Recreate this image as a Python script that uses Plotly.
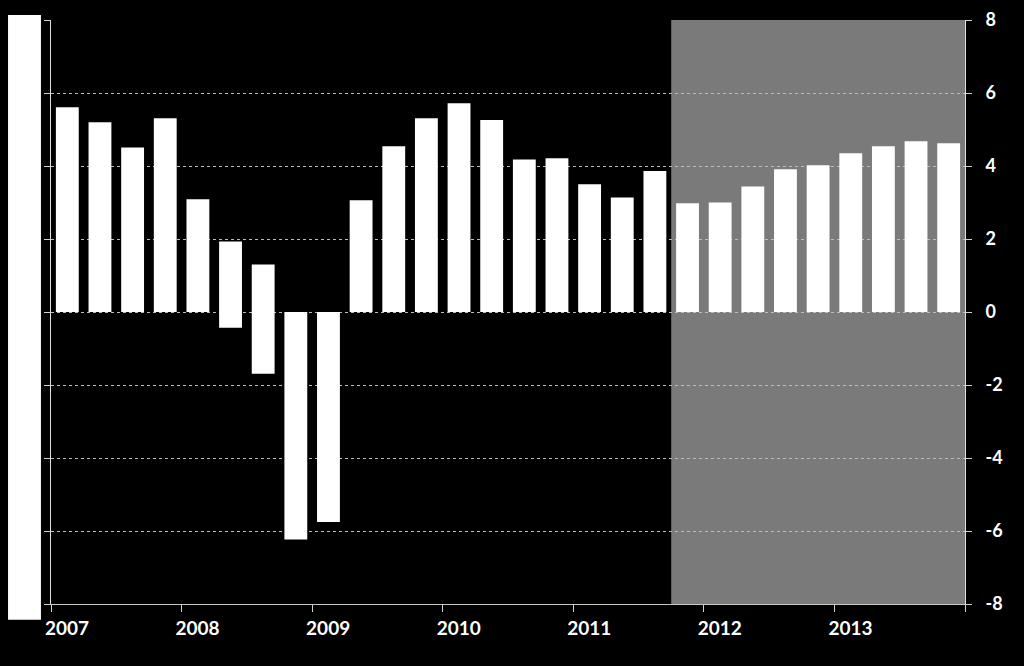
import plotly.graph_objects as go

quarters = [f"{y}Q{q}" for y in range(2007, 2014) for q in range(1, 5)]
tops = [5.61, 5.20, 4.51, 5.31, 3.09, 1.93, 1.30, 0.0,
        0.0, 3.06, 4.54, 5.31, 5.72, 5.26, 4.18, 4.21,
        3.50, 3.14, 3.86, 2.98, 3.00, 3.44, 3.91, 4.02,
        4.35, 4.54, 4.68, 4.62]
bottoms = [0, 0, 0, 0, 0, -0.43, -1.69, -6.23,
           -5.75, 0, 0, 0, 0, 0, 0, 0,
           0, 0, 0, 0, 0, 0, 0, 0,
           0, 0, 0, 0]
forecast_start = 19  # first quarter in shaded (forecast) region
year_labels = ["2007", "2008", "2009", "2010", "2011", "2012", "2013"]
y_ticks = [-8, -6, -4, -2, 0, 2, 4, 6, 8]
y_ticktext = ["-8", "-6", "-4", "-2", "0", "2", "4", "6", "8"]

x = list(range(len(quarters)))
heights = [t - b for t, b in zip(tops, bottoms)]

fig = go.Figure()
fig.add_trace(go.Bar(
    x=x, y=heights, base=bottoms, width=0.7,
    marker=dict(color="white", line=dict(width=0)),
    hovertext=quarters, showlegend=False,
))

tickvals = [i * 4 - 0.5 for i in range(len(year_labels) + 1)]
ticktext = year_labels + [""]

font_family = "Lato"
fig.update_layout(
    width=1024, height=666,
    paper_bgcolor="black", plot_bgcolor="black",
    margin=dict(l=51, r=59, t=20, b=62, autoexpand=False),
    bargap=0.3,
    xaxis=dict(
        range=[-0.5, len(quarters) - 0.5],
        tickmode="array", tickvals=tickvals, ticktext=ticktext,
        ticks="outside", ticklen=7, tickcolor="#d0d0d0", tickwidth=1,
        ticklabelshift=16, automargin=False,
        tickfont=dict(family=font_family, size=19, color="white", weight="bold"),
        showgrid=False, zeroline=False,
        showline=True, linecolor="#c8c8c8", linewidth=1,
    ),
    yaxis=dict(
        side="right", range=[-8, 8], automargin=False,
        tickmode="array", tickvals=y_ticks, ticktext=y_ticktext,
        ticks="outside", ticklen=6, tickcolor="#d0d0d0",
        ticklabelstandoff=10,
        tickfont=dict(family=font_family, size=18, color="white", weight="bold"),
        showgrid=True, gridcolor="#bdbdbd", griddash="dot", gridwidth=1,
        zeroline=False,
        showline=True, linecolor="#e0e0e0", linewidth=1, mirror="ticks",
    ),
    shapes=[
        dict(type="rect", xref="x", yref="paper",
             x0=forecast_start - 0.5, x1=len(quarters) - 0.5, y0=0, y1=1,
             fillcolor="#7a7a7a", line=dict(width=0), layer="below"),
        dict(type="rect", xref="paper", yref="paper",
             x0=-0.047, x1=-0.011, y0=-0.027, y1=1.0086,
             fillcolor="white", line=dict(width=0), layer="above"),
    ],
)

fig.write_html("out.html")
